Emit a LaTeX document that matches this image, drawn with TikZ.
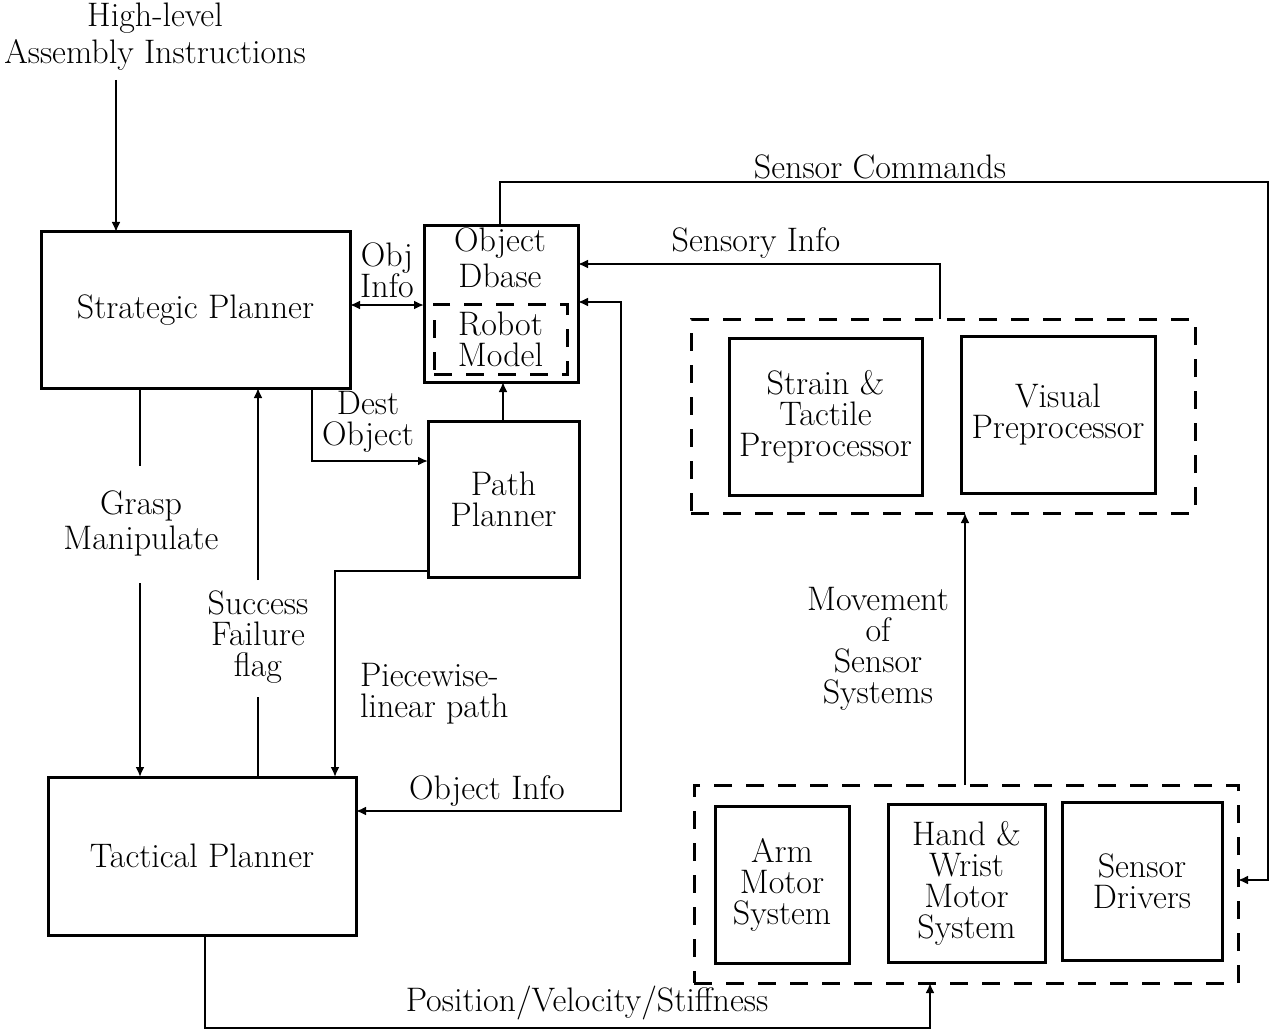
\documentclass[tikz,border=0pt]{standalone}
\usetikzlibrary{arrows.meta}
\begin{document}
\begin{tikzpicture}[x=0.5pt,y=-0.5pt,
  every node/.style={font=\fontsize{17}{15.5}\selectfont, inner sep=0pt, outer sep=0pt},
  box/.style={draw, line width=1.5pt, align=center},
  grp/.style={draw, line width=1.5pt, dash pattern=on 9pt off 7pt},
  lbl/.style={align=center},
  conn/.style={line width=1.1pt},
  arr/.style={line width=1.1pt, -{Latex[length=5pt,width=4.5pt]}},
  arrb/.style={line width=1.1pt, {Latex[length=5pt,width=4.5pt]}-{Latex[length=5pt,width=4.5pt]}}]
\useasboundingbox (0,0) rectangle (1273,1032);
% boxes
\node[box, minimum width=154.5pt, minimum height=78pt] (strat) at (195.5,310) {Strategic Planner};
\node[box, minimum width=154pt, minimum height=79pt] (tact) at (202,856) {Tactical Planner};
\node[box, minimum width=77pt, minimum height=78pt] (dbase) at (501,304) {};
\node[lbl, font=\fontsize{17}{18}\selectfont] (dbtxt) at (500,258) {Object\\Dbase};
\node[grp, minimum width=66.5pt, minimum height=35pt, align=center] (robot) at (500.5,339) {Robot\\Model};
\node[box, minimum width=75.5pt, minimum height=78pt] (path) at (503.5,499) {Path\\Planner};
\node[grp, minimum width=252pt, minimum height=97pt] (topgrp) at (943,416) {};
\node[box, minimum width=96.5pt, minimum height=78.5pt] (strain) at (825.5,416.5) {Strain \&\\Tactile\\Preprocessor};
\node[box, minimum width=97pt, minimum height=78.5pt] (visual) at (1058,414.5) {Visual\\Preprocessor};
\node[grp, minimum width=272pt, minimum height=99pt] (botgrp) at (966,884) {};
\node[box, minimum width=67pt, minimum height=78.5pt] (arm) at (782,884.5) {Arm\\Motor\\System};
\node[box, minimum width=78.5pt, minimum height=79pt] (hand) at (966.5,883) {Hand \&\\Wrist\\Motor\\System};
\node[box, minimum width=80pt, minimum height=79pt] (sensor) at (1142,881) {Sensor\\Drivers};
% labels
\node[lbl, font=\fontsize{17}{18.5}\selectfont] (hl) at (155,37) {High-level\\Assembly Instructions};
\node[lbl] (objinfo) at (387,270) {Obj\\Info};
\node[lbl] (dest) at (368,422) {Dest\\Object};
\node[lbl, font=\fontsize{17}{17.5}\selectfont] (grasp) at (141,523) {Grasp\\Manipulate};
\node[lbl] (succ) at (258,637) {Success\\Failure\\flag};
\node[align=left, anchor=west] (piece) at (360,694) {Piecewise-\\linear path};
\node[lbl] (oinfo) at (487,791) {Object Info};
\node[lbl] (sinfo) at (756,243) {Sensory Info};
\node[lbl] (scmd) at (880,167) {Sensor Commands};
\node[lbl] (move) at (878,649) {Movement\\of\\Sensor\\Systems};
\node[lbl] (pvs) at (587,1003) {Position/Velocity/Stiffness};
% coordinates for label gaps
\coordinate (g1) at (140,466);
\coordinate (g2) at (140,583);
\coordinate (s1) at (258,697);
\coordinate (s2) at (258,580);
\coordinate (hlend) at (116,80);
% connectors
\draw[arr] (hlend) -- (strat.north -| 116,0);
\draw[arrb] (strat.east |- 0,305) -- (dbase.west |- 0,305);
\draw[arr] (strat.south -| 312,0) |- (path.west |- 0,461);
\draw[arr] (path.north -| 503,0) -- (dbase.south -| 503,0);
\draw[conn] (strat.south -| 140,0) -- (g1);
\draw[arr] (g2) -- (tact.north -| 140,0);
\draw[conn] (tact.north -| 258,0) -- (s1);
\draw[arr] (s2) -- (strat.south -| 258,0);
\draw[arr] (path.west |- 0,571) -| (tact.north -| 335,0);
\draw[arrb] (dbase.east |- 0,302) -- (621,302) -- (621,811) -- (tact.east |- 0,811);
\draw[arr] (topgrp.north -| 940,0) |- (dbase.east |- 0,264);
\draw[arr] (dbase.north -| 500,0) |- (1268,182) |- (botgrp.east |- 0,880);
\draw[arr] (botgrp.north -| 965,0) -- (topgrp.south -| 965,0);
\draw[arr] (tact.south -| 205,0) -- (205,1028) -| (botgrp.south -| 930,0);
\end{tikzpicture}
\end{document}
